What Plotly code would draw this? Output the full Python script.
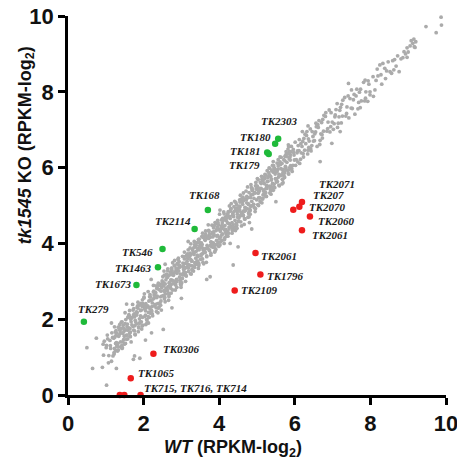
import plotly.graph_objects as go

# ---------------- data ----------------
bg_low = [
    (0.91,0.73),(0.93,1.34),(0.94,1.05),(0.96,1.42),
    (1.05,1.48),(1.08,1.04),(1.02,1.31),(1.07,0.85),(1.01,1.25),(1.04,1.58),
    (1.13,1.23),(1.16,1.64),(1.19,1.03),(1.11,1.44),(1.15,0.89),(1.18,1.52),(1.12,1.30),
    (1.27,1.57),(1.22,1.08),(1.25,1.66),(1.29,1.29),(1.23,1.80),(1.26,1.18),(1.21,1.50),(1.28,1.38),
    (1.39,1.27),(1.34,1.55),(1.37,1.86),(1.32,1.36),(1.36,1.73),(1.31,1.16),(1.38,1.63),(1.33,1.79),
    (1.43,1.23),(1.46,1.84),(1.49,1.55),(1.41,1.92),(1.45,1.40),(1.48,1.68),(1.42,1.30),(1.47,1.76),
    (1.59,2.06),(1.54,1.57),(1.57,1.87),(1.52,1.36),(1.56,1.80),(1.51,2.17),(1.58,1.48),(1.53,1.72),
    (1.61,1.77),(1.63,2.23),(1.64,1.55),(1.66,2.00),(1.67,1.40),(1.62,2.09),(1.69,1.85),(1.65,1.66),
    (1.75,2.14),(1.78,1.59),(1.72,2.24),(1.77,1.83),(1.71,2.39),(1.74,1.71),(1.76,2.06),(1.79,1.93),
    (1.87,1.80),(1.82,2.11),(1.85,2.45),(1.89,1.89),(1.83,2.31),(1.86,1.67),(1.81,2.19),(1.88,2.37),
    (1.95,1.74),(1.98,2.42),(1.92,2.09),(1.97,2.51),(1.91,1.93),(1.94,2.24),(1.96,1.82),(1.99,2.33),
    (2.01,2.56),(2.03,2.07),(2.04,2.37),(2.06,1.86),(2.07,2.30),(2.02,2.67),(2.09,1.98),(2.05,2.22),
    (2.17,2.27),(2.12,2.73),(2.15,2.05),(2.19,2.50),(2.13,1.90),(2.16,2.59),(2.11,2.35),(2.18,2.16),
    (2.29,2.64),(2.24,2.09),(2.27,2.74),(2.22,2.33),(2.26,2.89),(2.21,2.21),(2.28,2.56),(2.23,2.43),
    (2.33,2.30),(2.36,2.61),(2.39,2.95),(2.31,2.39),(2.35,2.81),(2.38,2.17),(2.32,2.69),(2.37,2.87),
    (2.47,2.24),(2.42,2.92),(2.45,2.59),(2.49,3.01),(2.43,2.43),(2.46,2.74),(2.41,2.32),(2.48,2.83),
]

bg_mid = [
    (2.55,3.16),(2.58,2.67),(2.52,2.97),(2.57,2.46),(2.51,2.90),(2.54,3.27),(2.56,2.58),(2.59,2.82),(2.53,2.88),(2.56,2.73),
    (2.69,2.87),(2.64,3.33),(2.67,2.65),(2.62,3.10),(2.66,2.50),(2.61,3.19),(2.68,2.95),(2.63,2.76),(2.65,2.86),(2.67,3.16),
    (2.71,3.24),(2.73,2.69),(2.74,3.34),(2.76,2.93),(2.77,3.49),(2.72,2.81),(2.79,3.16),(2.75,3.03),(2.78,3.21),(2.72,3.04),
    (2.85,2.90),(2.88,3.21),(2.82,3.55),(2.87,2.99),(2.81,3.41),(2.84,2.77),(2.86,3.29),(2.89,3.47),(2.83,2.95),(2.86,3.24),
    (2.99,2.84),(2.94,3.52),(2.97,3.19),(2.92,3.61),(2.96,3.03),(2.91,3.34),(2.98,2.92),(2.93,3.43),(2.95,3.37),(2.97,2.97),
    (3.03,3.66),(3.06,3.17),(3.09,3.47),(3.01,2.96),(3.05,3.40),(3.08,3.77),(3.02,3.08),(3.07,3.32),(3.04,3.38),(3.06,3.23),
    (3.15,3.37),(3.18,3.83),(3.12,3.15),(3.17,3.60),(3.11,3.00),(3.14,3.69),(3.16,3.45),(3.19,3.26),(3.13,3.36),(3.15,3.66),
    (3.23,3.74),(3.26,3.19),(3.29,3.84),(3.21,3.43),(3.25,3.99),(3.28,3.31),(3.22,3.66),(3.27,3.53),(3.24,3.71),(3.28,3.54),
    (3.31,3.40),(3.33,3.71),(3.34,4.05),(3.36,3.49),(3.37,3.91),(3.32,3.27),(3.39,3.79),(3.35,3.97),(3.38,3.45),(3.33,3.74),
    (3.45,3.34),(3.48,4.02),(3.42,3.69),(3.47,4.11),(3.41,3.53),(3.44,3.84),(3.46,3.42),(3.49,3.93),(3.43,3.87),(3.46,3.47),
    (3.57,4.16),(3.52,3.67),(3.55,3.97),(3.59,3.46),(3.53,3.90),(3.56,4.27),(3.51,3.58),(3.58,3.82),(3.54,3.88),(3.56,3.73),
    (3.69,3.87),(3.64,4.33),(3.67,3.65),(3.62,4.10),(3.66,3.50),(3.61,4.19),(3.68,3.95),(3.63,3.76),(3.65,3.86),(3.67,4.16),
    (3.75,4.24),(3.78,3.69),(3.72,4.34),(3.77,3.93),(3.71,4.49),(3.74,3.81),(3.76,4.16),(3.79,4.03),(3.73,4.21),(3.78,4.04),
    (3.83,3.90),(3.86,4.21),(3.89,4.55),(3.81,3.99),(3.85,4.41),(3.88,3.77),(3.82,4.29),(3.87,4.47),(3.84,3.95),(3.86,4.24),
    (3.91,3.84),(3.93,4.52),(3.94,4.19),(3.96,4.61),(3.97,4.03),(3.92,4.34),(3.99,3.92),(3.95,4.43),(3.98,4.37),(3.94,3.97),
    (4.09,4.66),(4.04,4.17),(4.07,4.47),(4.02,3.96),(4.06,4.40),(4.01,4.77),(4.08,4.08),(4.03,4.32),(4.05,4.38),(4.07,4.23),
    (4.17,4.37),(4.12,4.83),(4.15,4.15),(4.19,4.60),(4.13,4.00),(4.16,4.69),(4.11,4.45),(4.18,4.26),(4.14,4.36),(4.16,4.66),
    (4.21,4.74),(4.23,4.19),(4.24,4.84),(4.26,4.43),(4.27,4.99),(4.22,4.31),(4.29,4.66),(4.25,4.53),(4.28,4.71),(4.22,4.54),
    (4.35,4.40),(4.38,4.71),(4.32,5.05),(4.37,4.49),(4.31,4.91),(4.34,4.27),(4.36,4.79),(4.39,4.97),(4.33,4.45),(4.36,4.74),
    (4.43,4.34),(4.46,5.02),(4.49,4.69),(4.41,5.11),(4.45,4.53),(4.48,4.84),(4.42,4.42),(4.47,4.93),(4.44,4.87),(4.46,4.47),
    (4.57,5.16),(4.52,4.67),(4.55,4.97),(4.59,4.46),(4.53,4.90),(4.56,5.27),(4.51,4.58),(4.58,4.82),(4.54,4.88),(4.56,4.73),
    (4.69,4.87),(4.64,5.33),(4.67,4.65),(4.62,5.10),(4.66,4.50),(4.61,5.19),(4.68,4.95),(4.63,4.76),(4.65,4.86),(4.67,5.16),
    (4.73,5.24),(4.76,4.69),(4.79,5.34),(4.71,4.93),(4.75,5.49),(4.78,4.81),(4.72,5.16),(4.77,5.03),(4.74,5.21),(4.78,5.04),
]

bg_core = [
    (1.22,1.12),(1.24,1.53),(1.26,1.36),(1.28,1.64),(1.23,1.23),(1.27,1.70),
    (1.35,1.58),(1.31,1.28),(1.38,1.69),(1.33,1.19),(1.36,1.77),(1.39,1.40),
    (1.47,1.46),(1.43,1.93),(1.49,1.34),(1.45,1.62),(1.41,1.76),(1.44,1.25),
    (1.55,1.47),(1.51,1.88),(1.58,1.71),(1.53,1.99),(1.56,1.58),(1.59,2.05),
    (1.67,1.93),(1.63,1.63),(1.69,2.04),(1.65,1.54),(1.61,2.12),(1.64,1.75),
    (1.72,1.81),(1.74,2.28),(1.76,1.69),(1.78,1.97),(1.73,2.11),(1.77,1.60),
    (1.87,1.77),(1.83,2.18),(1.89,2.01),(1.85,2.29),(1.81,1.88),(1.84,2.35),
    (1.92,2.23),(1.94,1.93),(1.96,2.34),(1.98,1.84),(1.93,2.42),(1.97,2.05),
    (2.05,2.11),(2.01,2.58),(2.08,1.99),(2.03,2.27),(2.06,2.41),(2.09,1.90),
    (2.12,2.07),(2.14,2.48),(2.16,2.31),(2.18,2.59),(2.13,2.18),(2.17,2.65),
    (2.25,2.53),(2.21,2.23),(2.28,2.64),(2.23,2.14),(2.26,2.72),(2.29,2.35),
    (2.37,2.41),(2.33,2.88),(2.39,2.29),(2.35,2.57),(2.31,2.71),(2.34,2.20),
    (2.45,2.37),(2.41,2.78),(2.48,2.61),(2.43,2.89),(2.46,2.48),(2.49,2.95),
    (2.57,2.93),(2.53,2.63),(2.59,3.04),(2.55,2.54),(2.51,3.12),(2.54,2.75),
    (2.62,2.81),(2.64,3.28),(2.66,2.69),(2.68,2.97),(2.63,3.11),(2.67,2.60),
    (2.77,2.77),(2.73,3.18),(2.79,3.01),(2.75,3.29),(2.71,2.88),(2.74,3.35),
    (2.82,3.23),(2.84,2.93),(2.86,3.34),(2.88,2.84),(2.83,3.42),(2.87,3.05),
    (2.95,3.11),(2.91,3.58),(2.98,2.99),(2.93,3.27),(2.96,3.41),(2.99,2.90),
    (3.02,3.07),(3.04,3.48),(3.06,3.31),(3.08,3.59),(3.03,3.18),(3.07,3.65),
    (3.15,3.53),(3.11,3.23),(3.18,3.64),(3.13,3.14),(3.16,3.72),(3.19,3.35),
    (3.27,3.41),(3.23,3.88),(3.29,3.29),(3.25,3.57),(3.21,3.71),(3.24,3.20),
    (3.35,3.37),(3.31,3.78),(3.38,3.61),(3.33,3.89),(3.36,3.48),(3.39,3.95),
    (3.47,3.83),(3.43,3.53),(3.49,3.94),(3.45,3.44),(3.41,4.02),(3.44,3.65),
    (3.52,3.71),(3.54,4.18),(3.56,3.59),(3.58,3.87),(3.53,4.01),(3.57,3.50),
    (3.67,3.67),(3.63,4.08),(3.69,3.91),(3.65,4.19),(3.61,3.78),(3.64,4.25),
    (3.72,4.13),(3.74,3.83),(3.76,4.24),(3.78,3.74),(3.73,4.32),(3.77,3.95),
    (3.85,4.01),(3.81,4.48),(3.88,3.89),(3.83,4.17),(3.86,4.31),(3.89,3.80),
    (3.92,3.97),(3.94,4.38),(3.96,4.21),(3.98,4.49),(3.93,4.08),(3.97,4.55),
    (4.05,4.43),(4.01,4.13),(4.08,4.54),(4.03,4.04),(4.06,4.62),(4.09,4.25),
    (4.17,4.31),(4.13,4.78),(4.19,4.19),(4.15,4.47),(4.11,4.61),(4.14,4.10),
    (4.25,4.27),(4.21,4.68),(4.28,4.51),(4.23,4.79),(4.26,4.38),(4.29,4.85),
    (4.37,4.73),(4.33,4.43),(4.39,4.84),(4.35,4.34),(4.31,4.92),(4.34,4.55),
    (4.42,4.61),(4.44,5.08),(4.46,4.49),(4.48,4.77),(4.43,4.91),(4.47,4.40),
    (4.57,4.57),(4.53,4.98),(4.59,4.81),(4.55,5.09),(4.51,4.68),(4.54,5.15),
    (4.62,5.03),(4.64,4.73),(4.66,5.14),(4.68,4.64),(4.63,5.22),(4.67,4.85),
    (4.75,4.91),(4.71,5.38),(4.78,4.79),(4.73,5.07),(4.76,5.21),(4.79,4.70),
    (4.82,4.87),(4.84,5.28),(4.86,5.11),(4.88,5.39),(4.83,4.98),(4.87,5.45),
    (4.95,5.33),(4.91,5.03),(4.98,5.44),(4.93,4.94),(4.96,5.52),(4.99,5.15),
    (5.07,5.21),(5.03,5.68),(5.09,5.09),(5.05,5.37),(5.01,5.51),(5.04,5.00),
    (5.15,5.17),(5.11,5.58),(5.18,5.41),(5.13,5.69),(5.16,5.28),(5.19,5.75),
    (5.27,5.63),(5.23,5.33),(5.29,5.74),(5.25,5.24),(5.21,5.82),(5.24,5.45),
    (5.32,5.51),(5.34,5.98),(5.36,5.39),(5.38,5.67),(5.33,5.81),(5.37,5.30),
    (5.47,5.47),(5.43,5.88),(5.49,5.71),(5.45,5.99),(5.41,5.58),(5.44,6.05),
    (5.52,5.93),(5.54,5.63),(5.56,6.04),(5.58,5.54),(5.53,6.12),(5.57,5.75),
    (5.65,5.81),(5.61,6.28),(5.68,5.69),(5.63,5.97),(5.66,6.11),(5.69,5.60),
    (5.72,5.77),(5.74,6.18),(5.76,6.01),(5.78,6.29),(5.73,5.88),(5.77,6.35),
    (5.85,6.23),(5.81,5.93),(5.88,6.34),(5.83,5.84),(5.86,6.42),(5.89,6.05),
]

bg_upper = [
    (4.81,4.90),(4.83,5.21),(4.84,5.55),(4.86,4.99),(4.87,5.41),(4.82,4.77),(4.89,5.29),(4.85,5.47),
    (4.95,4.84),(4.98,5.52),(4.92,5.19),(4.97,5.61),(4.91,5.03),(4.94,5.34),(4.96,4.92),(4.99,5.43),
    (5.09,5.61),(5.04,5.20),(5.07,5.45),(5.02,5.02),(5.06,5.39),(5.01,5.71),(5.08,5.12),(5.03,5.32),
    (5.17,5.38),(5.12,5.77),(5.15,5.19),(5.19,5.58),(5.13,5.07),(5.16,5.65),(5.11,5.45),(5.18,5.29),
    (5.21,5.71),(5.23,5.24),(5.24,5.80),(5.26,5.45),(5.27,5.92),(5.22,5.35),(5.29,5.64),(5.25,5.53),
    (5.35,5.44),(5.38,5.70),(5.32,5.99),(5.37,5.51),(5.31,5.87),(5.34,5.33),(5.36,5.77),(5.39,5.92),
    (5.43,5.40),(5.46,5.98),(5.49,5.70),(5.41,6.06),(5.45,5.56),(5.48,5.83),(5.42,5.47),(5.47,5.90),
    (5.57,6.11),(5.52,5.70),(5.55,5.95),(5.59,5.52),(5.53,5.89),(5.56,6.21),(5.51,5.62),(5.58,5.82),
    (5.69,5.88),(5.64,6.27),(5.67,5.69),(5.62,6.08),(5.66,5.57),(5.61,6.15),(5.68,5.95),(5.63,5.79),
    (5.71,6.21),(5.73,5.74),(5.74,6.30),(5.76,5.95),(5.77,6.42),(5.72,5.85),(5.79,6.14),(5.75,6.03),
    (5.85,5.94),(5.88,6.20),(5.82,6.49),(5.87,6.01),(5.81,6.37),(5.84,5.83),(5.86,6.27),(5.89,6.42),
    (5.93,5.90),(5.96,6.48),(5.99,6.20),(5.91,6.56),(5.95,6.06),(5.98,6.33),(5.92,5.97),(5.97,6.40),
    (6.09,6.58),(6.04,6.21),(6.07,6.44),(6.02,6.06),(6.06,6.39),(6.01,6.67),(6.08,6.15),
    (6.17,6.39),(6.12,6.74),(6.15,6.22),(6.19,6.56),(6.13,6.11),(6.16,6.63),(6.11,6.45),
    (6.21,6.69),(6.23,6.28),(6.24,6.77),(6.26,6.46),(6.27,6.88),(6.22,6.37),(6.29,6.63),
    (6.35,6.46),(6.38,6.70),(6.32,6.95),(6.37,6.53),(6.31,6.85),(6.34,6.36),(6.36,6.76),
    (6.43,6.44),(6.46,6.95),(6.49,6.70),(6.41,7.02),(6.45,6.58),(6.48,6.82),(6.42,6.50),
    (6.57,7.08),(6.52,6.71),(6.55,6.94),(6.59,6.56),(6.53,6.89),(6.56,7.17),
    (6.69,6.89),(6.64,7.24),(6.67,6.72),(6.62,7.06),(6.66,6.61),(6.61,7.13),
    (6.71,7.19),(6.73,6.78),(6.74,7.27),(6.76,6.96),(6.77,7.38),(6.72,6.87),
    (6.85,6.96),(6.88,7.20),(6.82,7.45),(6.87,7.03),(6.81,7.35),
    (6.93,6.94),(6.96,7.45),(6.99,7.20),(6.91,7.52),(6.95,7.08),
    (7.09,7.53),(7.04,7.16),(7.07,7.39),(7.02,7.01),(7.06,7.34),
    (7.17,7.34),(7.12,7.69),(7.15,7.17),(7.19,7.51),(7.13,7.06),
    (7.21,7.59),(7.23,7.18),(7.24,7.67),(7.26,7.36),(7.27,7.78),
    (7.35,7.36),(7.38,7.60),(7.32,7.85),(7.37,7.43),
    (7.43,7.31),(7.46,7.82),(7.49,7.57),(7.41,7.89),
    (7.57,7.93),(7.52,7.56),(7.55,7.79),(7.59,7.41),
    (7.69,7.72),(7.64,8.07),(7.67,7.55),(7.62,7.89),
    (7.71,7.99),(7.73,7.58),(7.74,8.07),(7.76,7.76),
    (7.85,7.76),(7.88,8.00),(7.82,8.25),(7.87,7.83),
    (7.93,7.75),(7.96,8.20),(7.99,7.92),
]

bg_top = [
    (8.12,8.05),(7.99,8.00),(8.07,8.40),(8.20,8.42),(8.25,8.71),(8.33,8.75),(8.43,8.55),
    (8.47,8.79),(8.52,8.53),(8.56,8.49),(8.59,8.82),(8.62,8.58),(8.76,8.53),(8.81,8.87),
    (8.86,8.90),(8.89,9.06),(8.97,9.16),(8.97,8.91),(9.05,9.21),(9.12,9.28),(9.15,9.39),
    (9.18,9.17),(9.47,9.72),(9.74,9.56),(9.87,9.97),(9.88,9.76),(9.20,9.32),(9.16,9.19),
    (8.30,8.20),(8.38,8.62),(8.68,8.68),(8.72,8.95),(8.15,8.30),(8.08,7.88),(8.28,8.45),
    (8.40,8.35),(9.00,9.05),(9.08,9.35),(8.93,9.00),(8.64,8.85),(8.18,8.60),
]

bg_scatter = [
    (1.02,0.26),(1.28,0.70),(1.76,1.03),(1.90,0.97),(1.73,0.94),(2.21,1.64),(2.52,1.73),
    (2.05,1.45),(0.65,0.70),(0.50,1.25),(0.75,1.50),(1.15,1.90),(1.55,2.40),(2.20,3.05),
    (2.57,3.45),(3.18,4.05),(3.45,4.10),(3.76,3.12),(3.67,3.05),(4.02,4.88),(4.37,3.43),
    (4.50,3.91),(4.86,4.38),(4.29,4.00),(5.43,6.16),(5.83,6.60),(5.87,6.29),(5.84,6.56),
    (6.67,6.16),(6.98,6.64),(7.50,8.05),(7.42,8.22),(7.86,8.31),(7.94,8.29),(6.20,6.95),
    (5.50,5.10),(3.00,2.55),(2.75,2.30),(4.80,4.55),(6.35,7.10),(7.20,6.95),
]

up_names = ["TK2303", "TK180", "TK181", "TK179", "TK168", "TK2114",
            "TK546", "TK1463", "TK1673", "TK279"]
up_x = [5.56, 5.48, 5.27, 5.31, 3.70, 3.35, 2.50, 2.38, 1.81, 0.42]
up_y = [6.76, 6.63, 6.40, 6.36, 4.88, 4.38, 3.85, 3.37, 2.90, 1.93]

down_names = ["TK2071", "TK207", "TK2070", "TK2060", "TK2061", "TK2061",
              "TK1796", "TK2109", "TK0306", "TK1065", "TK715", "TK716", "TK714"]
down_x = [6.19, 6.12, 5.96, 6.40, 6.19, 4.96, 5.09, 4.41, 2.26, 1.66, 1.37, 1.49, 1.92]
down_y = [5.09, 4.97, 4.89, 4.71, 4.35, 3.75, 3.18, 2.76, 1.09, 0.44, 0.0, 0.0, 0.0]

label_texts = ["TK2303", "TK180", "TK181", "TK179", "TK168", "TK2114", "TK546",
               "TK1463", "TK1673", "TK279", "TK2071", "TK207", "TK2070", "TK2060",
               "TK2061", "TK2061", "TK1796", "TK2109", "TK0306", "TK1065",
               "TK715, TK716, TK714"]
label_x = [5.60, 4.96, 4.69, 4.67, 3.60, 2.77, 1.83, 1.74, 1.21, 0.68, 7.11, 6.90,
           6.86, 7.11, 6.93, 5.59, 5.75, 5.07, 3.01, 2.35, 3.36]
label_y = [7.22, 6.82, 6.45, 6.06, 5.27, 4.60, 3.78, 3.35, 2.93, 2.26, 5.58, 5.28,
           4.96, 4.58, 4.23, 3.68, 3.15, 2.76, 1.22, 0.57, 0.19]

tick_vals = [0, 2, 4, 6, 8, 10]

# ---------------- figure ----------------
bg_all = bg_low + bg_mid + bg_core + bg_upper + bg_top + bg_scatter
gray_x = [p[0] for p in bg_all]
gray_y = [p[1] for p in bg_all]

fig = go.Figure()
fig.add_trace(go.Scatter(
    x=gray_x, y=gray_y, mode="markers",
    marker=dict(size=3.8, color="#ababab", line=dict(width=0)),
    hoverinfo="skip", cliponaxis=False, showlegend=False))
fig.add_trace(go.Scatter(
    x=up_x, y=up_y, mode="markers", text=up_names,
    marker=dict(size=6.5, color="#1fba3a", line=dict(width=0)),
    cliponaxis=False, showlegend=False))
fig.add_trace(go.Scatter(
    x=down_x, y=down_y, mode="markers", text=down_names,
    marker=dict(size=6.5, color="#ee1c1c", line=dict(width=0)),
    cliponaxis=False, showlegend=False))

annotations = []
for t, lx, ly in zip(label_texts, label_x, label_y):
    annotations.append(dict(
        x=lx, y=ly, xref="x", yref="y", text=f"<b><i>{t}</i></b>",
        showarrow=False, xanchor="center", yanchor="middle",
        font=dict(family="Liberation Serif", size=11, color="#1a1a1a")))

annotations.append(dict(
    x=0.437, y=-0.142, xref="paper", yref="paper",
    text="<b><i>WT</i> (RPKM-log<sub>2</sub>)</b>", showarrow=False,
    xanchor="center", yanchor="middle",
    font=dict(family="Liberation Sans", size=18, color="#111111")))
annotations.append(dict(
    x=-0.11, y=0.66, xref="paper", yref="paper",
    text="<b><i>tk1545</i> KO (RPKM-log<sub>2</sub>)</b>", showarrow=False,
    textangle=-90, xanchor="center", yanchor="middle",
    font=dict(family="Liberation Sans", size=18, color="#111111")))

axis_common = dict(
    range=[0, 10], tickvals=tick_vals, ticktext=[str(v) for v in tick_vals],
    showline=True, linewidth=2.5, linecolor="black", mirror=False,
    ticks="outside", ticklen=7, tickwidth=2.5, tickcolor="black",
    showgrid=False, zeroline=False, ticklabeloverflow="allow", automargin=False,
    tickfont=dict(family="Liberation Sans", size=22, color="#111111", weight="bold"),
)

fig.update_layout(
    width=457, height=468,
    margin=dict(l=68, r=11, t=16, b=73, autoexpand=False),
    paper_bgcolor="white", plot_bgcolor="white",
    xaxis=dict(**axis_common),
    yaxis=dict(**axis_common),
    annotations=annotations,
    showlegend=False,
)

fig.write_html("out.html", config={"displayModeBar": False},
               post_script="document.body.style.margin='0px';document.body.style.overflow='hidden';")
